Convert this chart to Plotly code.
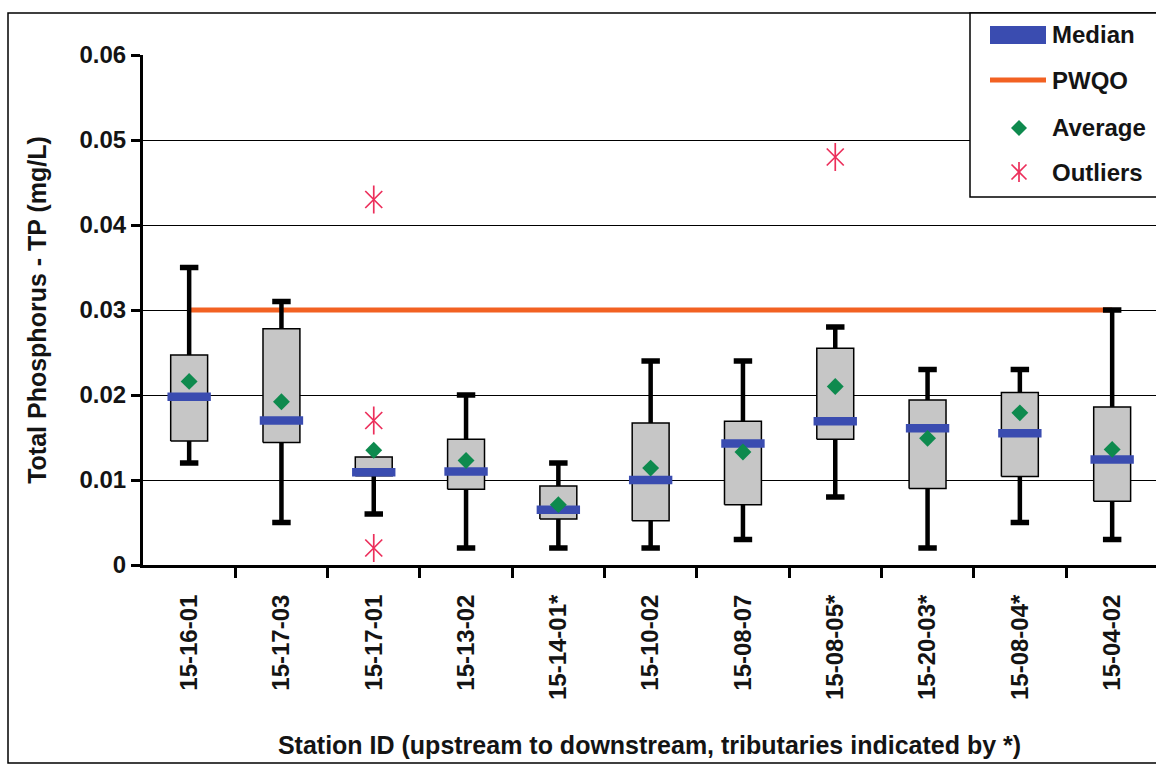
import plotly.graph_objects as go

# ---- data: total phosphorus summary per station (mg/L) ----
stations = ["15-16-01", "15-17-03", "15-17-01", "15-13-02", "15-14-01*", "15-10-02",
            "15-08-07", "15-08-05*", "15-20-03*", "15-08-04*", "15-04-02"]
whisker_low = [0.012, 0.005, 0.006, 0.002, 0.002, 0.002, 0.003, 0.008, 0.002, 0.005, 0.003]
q1 = [0.0146, 0.0144, 0.0105, 0.0089, 0.0054, 0.0052, 0.0071, 0.0148, 0.0090, 0.0104, 0.0075]
median = [0.0198, 0.0170, 0.0109, 0.0110, 0.0065, 0.0100, 0.0143, 0.0169, 0.0161, 0.0155, 0.0124]
q3 = [0.0247, 0.0278, 0.0127, 0.0148, 0.0093, 0.0167, 0.0169, 0.0255, 0.0194, 0.0203, 0.0186]
whisker_high = [0.035, 0.031, 0.0127, 0.020, 0.012, 0.024, 0.024, 0.028, 0.023, 0.023, 0.030]
average = [0.0216, 0.0192, 0.0135, 0.0123, 0.0071, 0.0114, 0.0133, 0.0210, 0.0149, 0.0179, 0.0136]
outlier_station = ["15-17-01", "15-17-01", "15-17-01", "15-08-05*"]
outlier_value = [0.043, 0.017, 0.002, 0.048]
pwqo = 0.03

y_ticks = [0, 0.01, 0.02, 0.03, 0.04, 0.05, 0.06]

# ---- styling ----
FONT = "Liberation Sans"
TXT = "#141414"
BLUE = "#3a4cb0"
ORANGE = "#f26122"
GREEN = "#0e8a4e"
PINK = "#ec2f5b"
GREY = "#c6c6c6"

BOX_HALF = 0.20
MED_HALF = 0.235
CAP_HALF = 0.10

W, H = 1156, 765
ML, MR, MT, MB = 143, 0, 55, 200

pos = {s: i for i, s in enumerate(stations)}
xs = list(range(len(stations)))

# whisker stems (only where the fence lies beyond the quartile)
wx, wy = [], []
for i in xs:
    if whisker_high[i] > q3[i]:
        wx += [i, i, None]; wy += [q3[i], whisker_high[i], None]
    if whisker_low[i] < q1[i]:
        wx += [i, i, None]; wy += [q1[i], whisker_low[i], None]

# whisker caps
cx, cy = [], []
for i in xs:
    if whisker_high[i] > q3[i]:
        cx += [i - CAP_HALF, i + CAP_HALF, None]; cy += [whisker_high[i]] * 2 + [None]
    if whisker_low[i] < q1[i]:
        cx += [i - CAP_HALF, i + CAP_HALF, None]; cy += [whisker_low[i]] * 2 + [None]

# interquartile boxes
bx, by = [], []
for i in xs:
    bx += [i - BOX_HALF, i + BOX_HALF, i + BOX_HALF, i - BOX_HALF, i - BOX_HALF, None]
    by += [q1[i], q1[i], q3[i], q3[i], q1[i], None]

# median bars
mx, my = [], []
for i in xs:
    mx += [i - MED_HALF, i + MED_HALF, None]
    my += [median[i], median[i], None]

fig = go.Figure()

fig.add_trace(go.Scatter(x=[xs[0], xs[-1]], y=[pwqo, pwqo], mode="lines",
                         line=dict(color=ORANGE, width=5), name="PWQO",
                         hoverinfo="skip"))
fig.add_trace(go.Scatter(x=wx, y=wy, mode="lines", line=dict(color="black", width=4.5),
                         hoverinfo="skip", showlegend=False))
fig.add_trace(go.Scatter(x=cx, y=cy, mode="lines", line=dict(color="black", width=5.5),
                         hoverinfo="skip", showlegend=False))
fig.add_trace(go.Scatter(x=bx, y=by, mode="lines", fill="toself", fillcolor=GREY,
                         line=dict(color="black", width=1.5), hoverinfo="skip",
                         showlegend=False))
fig.add_trace(go.Scatter(x=mx, y=my, mode="lines", line=dict(color=BLUE, width=8.5),
                         name="Median", hoverinfo="skip"))
fig.add_trace(go.Scatter(x=xs, y=average, mode="markers", name="Average",
                         marker=dict(symbol="diamond", size=13, color=GREEN)))
ox = [pos[s] for s in outlier_station]
# six-armed asterisk: an "x" plus a vertical stroke
fig.add_trace(go.Scatter(x=ox, y=outlier_value, mode="markers", name="Outliers",
                         marker=dict(symbol="x-thin-open", size=17, color=PINK,
                                     line=dict(color=PINK, width=1.7))))
fig.add_trace(go.Scatter(x=ox, y=outlier_value, mode="markers", showlegend=False,
                         hoverinfo="skip",
                         marker=dict(symbol="line-ns-open", size=20, color=PINK,
                                     line=dict(color=PINK, width=1.7))))

plot_w = W - ML - MR
plot_h = H - MT - MB


def px(x):
    return (x - ML) / plot_w


def py(y):
    return (H - MB - y) / plot_h


shapes = []
# outer frame
shapes.append(dict(type="rect", xref="paper", yref="paper",
                   x0=px(8), x1=px(1175), y0=py(763), y1=py(13),
                   line=dict(color="black", width=1.5), fillcolor="rgba(0,0,0,0)",
                   layer="above"))
# legend box
shapes.append(dict(type="rect", xref="paper", yref="paper",
                   x0=px(970), x1=px(1175), y0=py(197), y1=py(13),
                   line=dict(color="black", width=1.5), fillcolor="white",
                   layer="above"))
# legend symbols
shapes.append(dict(type="rect", xref="paper", yref="paper",
                   x0=px(990), x1=px(1046), y0=py(44), y1=py(26),
                   line=dict(width=0), fillcolor=BLUE, layer="above"))
shapes.append(dict(type="line", xref="paper", yref="paper",
                   x0=px(990), x1=px(1046), y0=py(80), y1=py(80),
                   line=dict(color=ORANGE, width=5), layer="above"))
dcx, dcy, dr = 1019, 128, 8
shapes.append(dict(type="path", xref="paper", yref="paper",
                   path=f"M{px(dcx)},{py(dcy - dr)} L{px(dcx + dr)},{py(dcy)} "
                        f"L{px(dcx)},{py(dcy + dr)} L{px(dcx - dr)},{py(dcy)} Z",
                   line=dict(width=0), fillcolor=GREEN, layer="above"))
acx, acy = 1019, 172
for (x0, y0, x1, y1) in [(acx, acy - 10, acx, acy + 10),
                         (acx - 7.5, acy - 7.5, acx + 7.5, acy + 7.5),
                         (acx - 7.5, acy + 7.5, acx + 7.5, acy - 7.5)]:
    shapes.append(dict(type="line", xref="paper", yref="paper",
                       x0=px(x0), x1=px(x1), y0=py(y0), y1=py(y1),
                       line=dict(color=PINK, width=1.7), layer="above"))

annotations = []
for label, yy in [("Median", 35), ("PWQO", 80), ("Average", 127), ("Outliers", 172)]:
    annotations.append(dict(text=label, xref="paper", yref="paper", x=px(1050), y=py(yy),
                            xanchor="left", yanchor="middle", showarrow=False,
                            font=dict(family=FONT, size=24, color=TXT, weight="bold")))

fig.update_layout(
    width=W, height=H,
    margin=dict(l=ML, r=MR, t=MT, b=MB, autoexpand=False),
    paper_bgcolor="white", plot_bgcolor="white",
    showlegend=False,
    shapes=shapes, annotations=annotations,
    font=dict(family=FONT, color=TXT),
    xaxis=dict(
        range=[-0.5, 10.475], tickmode="array", tickvals=xs, ticktext=stations,
        tickangle=-90, ticks="", ticklabelstandoff=17,
        tickfont=dict(family=FONT, size=24, color=TXT, weight="bold"),
        showline=True, linecolor="black", linewidth=3, showgrid=False, zeroline=False,
        minor=dict(tickmode="array", tickvals=[i + 0.5 for i in xs[:-1]],
                   ticks="outside", ticklen=10, tickwidth=3, tickcolor="black",
                   showgrid=False),
        title=dict(text="Station ID (upstream to downstream, tributaries indicated by *)",
                   font=dict(family=FONT, size=25, color=TXT, weight="bold"), standoff=38),
        automargin=False,
    ),
    yaxis=dict(
        range=[0, 0.06], tickmode="array", tickvals=y_ticks,
        ticktext=[f"{v:g}" for v in y_ticks],
        ticks="outside", ticklen=9, tickwidth=3, tickcolor="black",
        tickfont=dict(family=FONT, size=24, color=TXT, weight="bold"),
        showline=True, linecolor="black", linewidth=3,
        showgrid=True, gridcolor="black", gridwidth=1, zeroline=False,
        title=dict(text="Total Phosphorus - TP (mg/L)",
                   font=dict(family=FONT, size=25, color=TXT, weight="bold"), standoff=26),
        automargin=False,
    ),
)

fig.write_html("out.html")
